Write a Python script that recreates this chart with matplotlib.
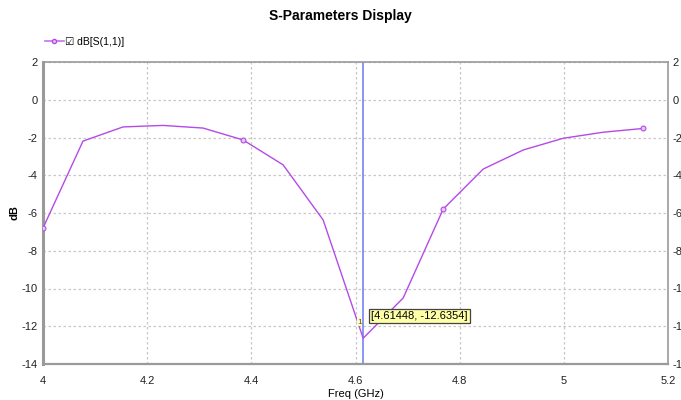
import numpy as np
import matplotlib.pyplot as plt
from matplotlib.lines import Line2D

plt.rcParams['font.family'] = ['Liberation Sans Narrow', 'Liberation Sans', 'DejaVu Sans']
plt.rcParams['axes.unicode_minus'] = False

# S11 sweep, 16 points
freq = 4.0 + 0.07683 * np.arange(16)
s11_db = [-6.8, -2.19, -1.44, -1.36, -1.5, -2.13, -3.45, -6.37,
          -12.6354, -10.5, -5.79, -3.67, -2.66, -2.04, -1.72, -1.52]
marker_idx = [0, 5, 10, 15]
cursor_f = 4.61448
cursor_db = -12.6354

yticks = [2, 0, -2, -4, -6, -8, -10, -12, -14]
yticks_right = ['2', '0', '-2', '-4', '-6', '-8', '-1', '-1', '-1']
xticks = [4, 4.2, 4.4, 4.6, 4.8, 5, 5.2]
xticklabels = ['4', '4.2', '4.4', '4.6', '4.8', '5', '5.2']

line_col = '#b54ae6'

fig = plt.figure(figsize=(6.81, 4.0), dpi=100)
ax = fig.add_axes([0.0631, 0.09, 0.918, 0.755])

ax.plot(freq, s11_db, color=line_col, lw=1.0, zorder=3)
ax.plot(freq[marker_idx], np.array(s11_db)[marker_idx], 'o', ms=3.5,
        mfc='#e6c8f5', mec=line_col, mew=0.8, zorder=4)
ax.axvline(cursor_f, color='#7585f0', lw=1.2, zorder=2)

ax.set_xlim(4, 5.2)
ax.set_ylim(-14, 2)
ax.set_xticks(xticks)
ax.set_xticklabels(xticklabels)
ax.set_yticks(yticks)
ax.grid(color='#c8c8c8', ls=(0, (2, 2)), lw=0.9)
ax.tick_params(axis='y', length=0, labelsize=8, pad=4, colors='#222222')
ax.tick_params(axis='x', length=0, labelsize=8, pad=9, colors='#222222')

for s in ax.spines.values():
    s.set_color('#9a9a9a')
    s.set_linewidth(1.2)
ax.spines['left'].set_linewidth(2.2)
ax.spines['bottom'].set_linewidth(1.6)

ax2 = ax.twinx()
ax2.set_ylim(-14, 2)
ax2.set_yticks(yticks)
ax2.set_yticklabels(yticks_right)
ax2.tick_params(length=0, labelsize=8, pad=3, colors='#222222')
for s in ax2.spines.values():
    s.set_visible(False)

ax.set_xlabel('Freq (GHz)', fontsize=8, labelpad=2)
ax.set_ylabel('dB', fontsize=8, fontweight='bold')
ax.yaxis.set_label_coords(-0.038, 0.5)
fig.text(0.5, 0.96, 'S-Parameters Display', ha='center', va='center',
         fontsize=10, fontweight='bold')

# cursor readout
ax.text(cursor_f + 0.015, cursor_db + 1.18, '[4.61448, -12.6354]', fontsize=8,
        va='center', ha='left', zorder=6,
        bbox=dict(boxstyle='square,pad=0.2', fc='#ffffa8', ec='#444444', lw=0.9))
ax.text(cursor_f - 0.002, cursor_db + 0.85, '1', fontsize=6, color='#555533',
        ha='right', va='center', zorder=6,
        bbox=dict(boxstyle='square,pad=0.05', fc='#ffffc0', ec='none'))

# legend
h = Line2D([], [], color='#c870f0', lw=1.2, marker='o', ms=3,
           mfc='#e6c8f5', mec=line_col)
fig.legend([h], ['\u2611 dB[S(1,1)]'], loc='center left',
           bbox_to_anchor=(0.052, 0.895), frameon=False, fontsize=7.5,
           handlelength=1.8, handletextpad=0.15)

fig.savefig('out.png', dpi=100)
